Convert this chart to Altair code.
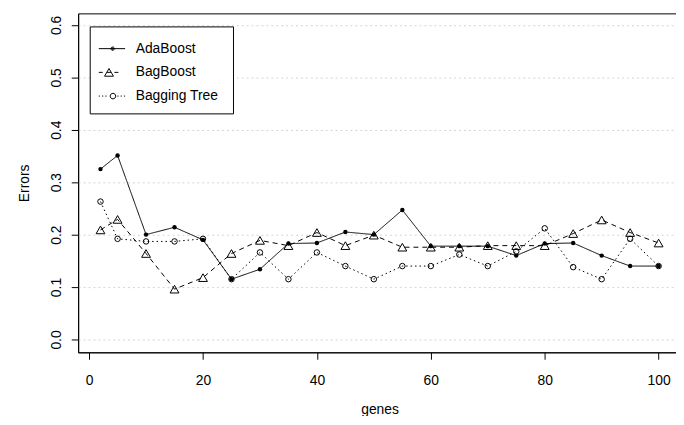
import altair as alt
import pandas as pd

# ---- data ----
genes = [2, 5, 10, 15, 20, 25, 30, 35, 40, 45, 50, 55, 60, 65, 70, 75, 80, 85, 90, 95, 100]
adaboost = [0.325, 0.351, 0.200, 0.214, 0.190, 0.115, 0.134, 0.183, 0.184, 0.205, 0.200,
            0.247, 0.178, 0.178, 0.178, 0.160, 0.183, 0.184, 0.160, 0.140, 0.140]
bagboost = [0.209, 0.229, 0.164, 0.096, 0.118, 0.164, 0.189, 0.179, 0.204, 0.179, 0.199,
            0.176, 0.176, 0.176, 0.179, 0.179, 0.179, 0.202, 0.228, 0.204, 0.184]
bagging_tree = [0.263, 0.192, 0.187, 0.187, 0.192, 0.115, 0.166, 0.115, 0.166, 0.140, 0.115,
                0.140, 0.140, 0.162, 0.140, 0.168, 0.212, 0.138, 0.115, 0.192, 0.140]
methods = ["AdaBoost", "BagBoost", "Bagging Tree"]
x_ticks = [0, 20, 40, 60, 80, 100]
y_ticks = [0.0, 0.1, 0.2, 0.3, 0.4, 0.5, 0.6]

rows = []
for name, vals in zip(methods, [adaboost, bagboost, bagging_tree]):
    for g, v in zip(genes, vals):
        rows.append({"genes": g, "error": v, "method": name})
df = pd.DataFrame(rows)

FONT = "Liberation Sans"

# ---- legend symbol paths (line sample + marker), in px around the symbol centre ----
U = 14.0  # px per unit for symbolSize 784


def p(v):
    return f"{v / U:.4f}"


def seg(x0, x1):
    return f"M{p(x0)},0H{p(x1)}"


def circ(cx, r):
    k = 0.5523 * r
    return (f"M{p(cx + r)},0"
            f"C{p(cx + r)},{p(k)} {p(cx + k)},{p(r)} {p(cx)},{p(r)}"
            f"C{p(cx - k)},{p(r)} {p(cx - r)},{p(k)} {p(cx - r)},0"
            f"C{p(cx - r)},{p(-k)} {p(cx - k)},{p(-r)} {p(cx)},{p(-r)}"
            f"C{p(cx + k)},{p(-r)} {p(cx + r)},{p(-k)} {p(cx + r)},0Z")


def tri(cx, hw, hh):
    return f"M{p(cx)},{p(-hh)}L{p(cx + hw)},{p(hh)}L{p(cx - hw)},{p(hh)}Z"


def bnd(top=-8.8, bottom=7.0):
    # invisible move-to points that set the extent of each legend entry
    return f"M{p(-13.3)},{p(top)}M{p(112)},{p(bottom)}"


legend_paths = [
    bnd() + seg(-13.3, 13.3) + circ(0.7, 1.7) + circ(0.7, 0.7),
    bnd() + seg(-13.3, -9.3) + seg(-5, -1) + seg(2.5, 6.5) + tri(-3, 4.5, 3.9),
    bnd() + seg(-13.3, -12.1) + seg(-10, -8.8) + seg(-6.7, -5.5) + circ(1, 2.8)
    + seg(5.5, 6.7) + seg(8.8, 10) + seg(12.1, 13.3),
]

xscale = alt.Scale(domain=[-1.92, 103.92], nice=False, zero=False)
yscale = alt.Scale(domain=[-0.0245, 0.622], nice=False, zero=False)

x_axis = alt.Axis(values=x_ticks, tickSize=7, labelPadding=26, labelBaseline="alphabetic",
                  labelFlush=False, labelOverlap=False, grid=False, title="genes",
                  titleX=305, titleY=62, titleBaseline="alphabetic", titleAlign="center")
y_axis = alt.Axis(values=y_ticks, format=".1f", tickSize=7, labelAngle=270, labelAlign="center",
                  labelBaseline="alphabetic", labelPadding=11, labelFlush=False,
                  labelOverlap=False, grid=True, gridColor="#d3d3d3", gridDash=[2, 3],
                  title="Errors", titleX=-50, titleY=171.5, titleAngle=270,
                  titleBaseline="alphabetic", titleAlign="center")

xe = alt.X("genes:Q", scale=xscale, axis=x_axis)
ye = alt.Y("error:Q", scale=yscale, axis=y_axis)

base = alt.Chart(df)

dashes = {"AdaBoost": [1, 0], "BagBoost": [5, 4], "Bagging Tree": [1.5, 3]}
line_layers = [
    base.transform_filter(alt.datum.method == m).mark_line(
        color="black", strokeWidth=1, strokeDash=dashes[m]
    ).encode(x=xe, y=ye, order="genes:Q")
    for m in methods
]

pts_ada = base.transform_filter(alt.datum.method == "AdaBoost").mark_point(
    shape="circle", filled=True, size=20, color="black", opacity=1).encode(x=xe, y=ye)
pts_bb = base.transform_filter(alt.datum.method == "BagBoost").mark_point(
    shape="triangle-up", filled=False, size=80, color="black", strokeWidth=1, opacity=1
).encode(x=xe, y=ye)
pts_bt = base.transform_filter(alt.datum.method == "Bagging Tree").mark_point(
    shape="circle", filled=False, size=31, color="black", strokeWidth=1, opacity=1
).encode(x=xe, y=ye)

# legend-only layer: no marks drawn, its shape scale feeds the legend
legend_layer = base.transform_filter("false").mark_point(
    filled=False, color="black", strokeWidth=1, opacity=1).encode(
    x=xe, y=ye,
    shape=alt.Shape("method:N", scale=alt.Scale(domain=methods, range=legend_paths),
                    legend=alt.Legend(title=None, orient="none", legendX=11.7, legendY=13.2,
                                      padding=8, strokeColor="black", fillColor="white",
                                      symbolSize=784,
                                      symbolStrokeWidth=1, symbolStrokeColor="black",
                                      labelFont=FONT, labelFontSize=14, labelColor="black",
                                      labelOffset=9.5, rowPadding=0, symbolOffset=0)),
)

chart = alt.layer(*line_layers, pts_ada, pts_bb, pts_bt, legend_layer).properties(
    width=610, height=343,
    autosize=alt.AutoSizeParams(type="none"),
    padding={"left": 71, "top": 3, "right": -5, "bottom": 62},
    background="white",
).configure_view(stroke="black", strokeWidth=1).configure_axis(
    labelFont=FONT, titleFont=FONT, labelFontSize=14, titleFontSize=14,
    labelColor="black", titleColor="black", titleFontWeight="normal",
    tickColor="black", domainColor="black", tickWidth=1, domainWidth=1,
).configure_legend(strokeWidth=1)

chart.save("out.html", embed_options={"renderer": "svg", "actions": False})
